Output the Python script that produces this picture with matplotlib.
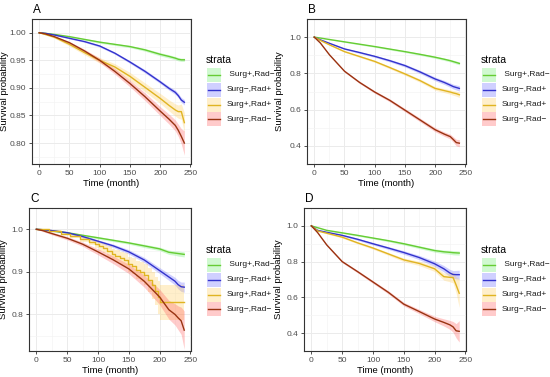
import numpy as np
import matplotlib
matplotlib.use("Agg")
import matplotlib.pyplot as plt
from matplotlib.patches import Rectangle
from matplotlib.lines import Line2D

plt.rcParams['font.family'] = ['Liberation Sans', 'DejaVu Sans']

W, H = 550, 377

strata = [" Surg+,Rad\u2212", "Surg\u2212,Rad+", "Surg+,Rad+", "Surg\u2212,Rad\u2212"]
line_colors = ["#66cc33", "#3333cc", "#e0b422", "#993311"]
fill_colors = ["#66ee66", "#6666ff", "#ffcc55", "#ff5555"]

months = [0, 10, 25, 50, 75, 100, 125, 150, 175, 200, 215, 225, 230, 235, 240]

# ---- Panel A ----
A_green = [1.0, 0.999, 0.997, 0.993, 0.988, 0.983, 0.979, 0.975, 0.969, 0.961, 0.957, 0.954, 0.952, 0.951, 0.951]
A_blue = [1.0, 0.999, 0.996, 0.990, 0.984, 0.976, 0.963, 0.947, 0.930, 0.911, 0.899, 0.892, 0.886, 0.878, 0.874]
A_yellow = [1.0, 0.997, 0.992, 0.979, 0.964, 0.950, 0.938, 0.921, 0.901, 0.881, 0.868, 0.860, 0.857, 0.857, 0.837]
A_red = [1.0, 0.998, 0.993, 0.982, 0.967, 0.950, 0.930, 0.908, 0.884, 0.858, 0.843, 0.832, 0.823, 0.812, 0.800]
A_green_ci = [0, 0.0005, 0.001, 0.001, 0.0015, 0.002, 0.002, 0.002, 0.0025, 0.003, 0.003, 0.003, 0.003, 0.003, 0.003]
A_blue_ci = [0, 0.0005, 0.001, 0.001, 0.0015, 0.002, 0.002, 0.0025, 0.003, 0.003, 0.0035, 0.004, 0.004, 0.0045, 0.005]
A_yellow_ci = [0, 0.001, 0.002, 0.003, 0.004, 0.005, 0.006, 0.007, 0.008, 0.009, 0.010, 0.011, 0.012, 0.014, 0.018]
A_red_ci = [0, 0.0005, 0.001, 0.002, 0.003, 0.004, 0.005, 0.006, 0.007, 0.008, 0.009, 0.010, 0.011, 0.014, 0.022]

# ---- Panel B ----
B_green = [1.0, 0.995, 0.987, 0.974, 0.961, 0.948, 0.934, 0.920, 0.905, 0.889, 0.878, 0.870, 0.865, 0.860, 0.855]
B_blue = [1.0, 0.985, 0.966, 0.935, 0.915, 0.894, 0.870, 0.843, 0.808, 0.769, 0.750, 0.735, 0.727, 0.722, 0.717]
B_yellow = [1.0, 0.982, 0.958, 0.920, 0.893, 0.866, 0.832, 0.797, 0.760, 0.717, 0.705, 0.697, 0.692, 0.688, 0.682]
B_red = [1.0, 0.968, 0.903, 0.812, 0.750, 0.697, 0.651, 0.597, 0.543, 0.489, 0.465, 0.451, 0.435, 0.418, 0.415]
B_green_ci = [0, 0.001, 0.002, 0.003, 0.004, 0.004, 0.005, 0.005, 0.006, 0.006, 0.007, 0.007, 0.008, 0.008, 0.008]
B_blue_ci = [0, 0.002, 0.003, 0.004, 0.005, 0.006, 0.007, 0.008, 0.009, 0.010, 0.011, 0.012, 0.013, 0.014, 0.015]
B_yellow_ci = [0, 0.002, 0.003, 0.004, 0.005, 0.006, 0.007, 0.008, 0.009, 0.010, 0.011, 0.012, 0.013, 0.014, 0.015]
B_red_ci = [0, 0.002, 0.003, 0.005, 0.006, 0.007, 0.008, 0.009, 0.010, 0.011, 0.012, 0.013, 0.015, 0.018, 0.020]

# ---- Panel C ----
C_green = [1.0, 0.999, 0.996, 0.992, 0.986, 0.980, 0.974, 0.968, 0.961, 0.954, 0.946, 0.944, 0.943, 0.942, 0.941]
C_blue = [1.0, 0.999, 0.997, 0.992, 0.983, 0.972, 0.961, 0.947, 0.928, 0.903, 0.888, 0.878, 0.870, 0.865, 0.864]
C_red = [1.0, 0.997, 0.990, 0.979, 0.965, 0.947, 0.928, 0.907, 0.878, 0.841, 0.811, 0.800, 0.792, 0.785, 0.763]
C_green_ci = [0, 0.001, 0.001, 0.002, 0.002, 0.003, 0.003, 0.003, 0.004, 0.004, 0.005, 0.005, 0.006, 0.006, 0.006]
C_blue_ci = [0, 0.001, 0.001, 0.002, 0.003, 0.003, 0.004, 0.005, 0.006, 0.007, 0.008, 0.009, 0.010, 0.011, 0.012]
C_red_ci = [0, 0.002, 0.003, 0.004, 0.005, 0.007, 0.009, 0.011, 0.014, 0.018, 0.022, 0.025, 0.028, 0.032, 0.045]
C_yellow_months = [0, 20, 40, 55, 70, 85, 95, 102, 108, 115, 122, 128, 135, 142, 148, 155,
                   162, 168, 175, 182, 188, 193, 197, 200, 240]
C_yellow = [1.0, 0.996, 0.990, 0.984, 0.977, 0.970, 0.966, 0.960, 0.955, 0.948, 0.941, 0.937,
            0.932, 0.928, 0.918, 0.914, 0.905, 0.900, 0.893, 0.880, 0.868, 0.855, 0.840, 0.828, 0.828]
C_yellow_ci = [0, 0.002, 0.004, 0.005, 0.006, 0.008, 0.009, 0.010, 0.011, 0.012, 0.013, 0.014,
               0.015, 0.016, 0.018, 0.019, 0.021, 0.023, 0.025, 0.028, 0.031, 0.034, 0.038, 0.042, 0.045]

# ---- Panel D ----
D_green = [1.0, 0.990, 0.975, 0.961, 0.947, 0.932, 0.917, 0.900, 0.881, 0.862, 0.855, 0.852, 0.850, 0.849, 0.848]
D_blue = [1.0, 0.975, 0.964, 0.947, 0.925, 0.900, 0.876, 0.851, 0.823, 0.788, 0.760, 0.736, 0.728, 0.727, 0.727]
D_yellow = [1.0, 0.972, 0.959, 0.937, 0.905, 0.876, 0.843, 0.810, 0.790, 0.760, 0.716, 0.712, 0.711, 0.669, 0.623]
D_red = [1.0, 0.963, 0.893, 0.800, 0.744, 0.686, 0.628, 0.562, 0.521, 0.479, 0.460, 0.446, 0.435, 0.413, 0.410]
D_green_ci = [0, 0.002, 0.003, 0.004, 0.005, 0.005, 0.006, 0.007, 0.008, 0.009, 0.010, 0.011, 0.012, 0.012, 0.012]
D_blue_ci = [0, 0.003, 0.004, 0.005, 0.006, 0.007, 0.008, 0.010, 0.012, 0.015, 0.018, 0.020, 0.022, 0.024, 0.025]
D_yellow_ci = [0, 0.003, 0.004, 0.005, 0.006, 0.007, 0.008, 0.010, 0.012, 0.015, 0.020, 0.025, 0.030, 0.045, 0.080]
D_red_ci = [0, 0.003, 0.005, 0.006, 0.007, 0.008, 0.009, 0.010, 0.012, 0.015, 0.020, 0.025, 0.030, 0.040, 0.060]

panels = [
    dict(label="A", box=(32, 19, 191, 164), ylim=(0.762, 1.012), ylab_x=9,
         yticks=[0.80, 0.85, 0.90, 0.95, 1.00], yfmt="{:.2f}",
         series=[(months, A_green, A_green_ci, False), (months, A_blue, A_blue_ci, False),
                 (months, A_yellow, A_yellow_ci, False), (months, A_red, A_red_ci, False)],
         leg=(207, 60)),
    dict(label="B", box=(307, 19, 466, 164), ylim=(0.363, 1.032), ylab_x=284,
         yticks=[0.4, 0.6, 0.8, 1.0], yfmt="{:.1f}",
         series=[(months, B_green, B_green_ci, False), (months, B_blue, B_blue_ci, False),
                 (months, B_yellow, B_yellow_ci, False), (months, B_red, B_red_ci, False)],
         leg=(482, 60)),
    dict(label="C", box=(29, 208, 191, 351), ylim=(0.714, 1.015), ylab_x=8,
         yticks=[0.8, 0.9, 1.0], yfmt="{:.1f}",
         series=[(months, C_green, C_green_ci, False), (months, C_blue, C_blue_ci, False),
                 (C_yellow_months, C_yellow, C_yellow_ci, True), (months, C_red, C_red_ci, False)],
         leg=(207, 250)),
    dict(label="D", box=(304, 208, 466, 351), ylim=(0.331, 1.035), ylab_x=283,
         yticks=[0.4, 0.6, 0.8, 1.0], yfmt="{:.1f}",
         series=[(months, D_green, D_green_ci, False), (months, D_blue, D_blue_ci, False),
                 (months, D_yellow, D_yellow_ci, False), (months, D_red, D_red_ci, False)],
         leg=(482, 250)),
]

fig = plt.figure(figsize=(W / 100, H / 100), dpi=100)
fig.patch.set_facecolor("white")

def fx(x):
    return x / W

def fy(y):
    return 1 - y / H

for p in panels:
    l, t, r, b = p["box"]
    ax = fig.add_axes([fx(l), fy(b), (r - l) / W, (b - t) / H])
    ax.set_xlim(-12, 251)
    ax.set_ylim(*p["ylim"])
    ax.set_xticks([0, 50, 100, 150, 200, 250])
    ax.set_xticks([25, 75, 125, 175, 225], minor=True)
    ax.set_yticks(p["yticks"])
    yt = p["yticks"]
    step = yt[1] - yt[0]
    ax.set_yticks([v + step / 2 for v in [yt[0] - step] + yt], minor=True)
    ax.set_yticklabels([p["yfmt"].format(v) for v in yt])
    ax.grid(which="major", color="#ebebeb", linewidth=0.7)
    ax.grid(which="minor", color="#f4f4f4", linewidth=0.5)
    ax.set_axisbelow(True)
    for s in ax.spines.values():
        s.set_color("#333333")
        s.set_linewidth(0.8)
    ax.tick_params(which="major", length=2.5, width=0.6, color="#333333",
                   labelsize=6, labelcolor="#4d4d4d", pad=1.5)
    ax.tick_params(which="minor", length=0)
    ax.set_xlabel("Time (month)", fontsize=6.8, labelpad=1.5)
    ax.set_ylabel("Survival probability", fontsize=6.8)
    ax.yaxis.set_label_coords((p["ylab_x"] - l) / (r - l), 0.5)
    for i, (tt, vv, ci, steps) in enumerate(p["series"]):
        tt = np.array(tt, float)
        vv = np.array(vv, float)
        ci = np.array(ci, float)
        st = "post" if steps else None
        ax.fill_between(tt, vv - ci, vv + ci, color=fill_colors[i], alpha=0.3,
                        linewidth=0, step=st)
        ax.plot(tt, vv, color=line_colors[i], linewidth=1.0,
                drawstyle="steps-post" if steps else "default")
    fig.text(fx(l + 1), fy(t - 9), p["label"], fontsize=8.5, va="center", ha="left")

    # legend
    lx, ly = p["leg"]
    fig.text(fx(lx - 1), fy(ly), "strata", fontsize=7.5, va="center", ha="left")
    for i, name in enumerate(strata):
        cy = ly + 15 + i * 14.8
        rect = Rectangle((fx(lx), fy(cy + 7)), 13.5 / W, 14 / H, transform=fig.transFigure,
                         facecolor=fill_colors[i], alpha=0.3, edgecolor="none")
        fig.add_artist(rect)
        fig.add_artist(Line2D([fx(lx + 1), fx(lx + 12.5)], [fy(cy), fy(cy)],
                              transform=fig.transFigure, color=line_colors[i], linewidth=1.0))
        fig.text(fx(lx + 20), fy(cy), name, fontsize=6, va="center", ha="left", color="#1a1a1a")

fig.savefig("out.png", dpi=100)
